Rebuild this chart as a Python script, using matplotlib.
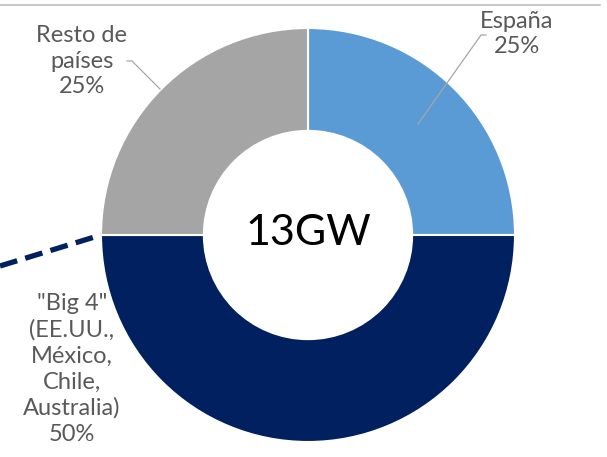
import matplotlib
matplotlib.use('Agg')
import matplotlib.pyplot as plt

# data
labels = ['España', '"Big 4"\n(EE.UU.,\nMéxico,\nChile,\nAustralia)', 'Resto de\npaíses']
shares = [25, 50, 25]
colors = ['#5B9BD5', '#002060', '#A5A5A5']
total_label = '13GW'

W, H = 607, 457
fig = plt.figure(figsize=(W / 100, H / 100), dpi=100)
ax = fig.add_axes([0, 0, 1, 1])
plt.rcParams['font.family'] = ['Lato', 'DejaVu Sans']

def py(y):
    # pixel y (from top) -> data y
    return H - y

cx, cy, r = 308, py(235), 207
ax.pie(shares, colors=colors, startangle=90, counterclock=False,
       center=(cx, cy), radius=r,
       wedgeprops=dict(width=r * 0.497, edgecolor='white', linewidth=1.5))

ax.text(cx, cy + 2, total_label, ha='center', va='center', fontsize=31, color='black')

txt = '#595959'
ax.text(517, py(34), f'{labels[0]}\n{shares[0]}%', ha='center', va='center',
        fontsize=17, color=txt, linespacing=1.28)
ax.text(82, py(61), f'{labels[2]}\n{shares[2]}%', ha='center', va='center',
        fontsize=17, color=txt, linespacing=1.28)
ax.text(72, py(369), f'{labels[1]}\n{shares[1]}%', ha='center', va='center',
        fontsize=17, color=txt, linespacing=1.28)

# leader lines
ax.plot([418, 481, 486], [py(124), py(35), py(35)], color='#A6A6A6', lw=0.9)
ax.plot([127, 132, 160], [py(61), py(61), py(89)], color='#A6A6A6', lw=0.9)

# dashed connector and top rule
ax.plot([0, 101], [py(266), py(235)], color='#002060', lw=3.8, ls=(0, (3.4, 1.6)),
        solid_capstyle='butt', dash_capstyle='butt')
ax.plot([0, 600], [py(5), py(5)], color='#BFBFBF', lw=1.2)

ax.set_xlim(0, W)
ax.set_ylim(0, H)
ax.axis('off')
fig.savefig('out.png', dpi=100)
